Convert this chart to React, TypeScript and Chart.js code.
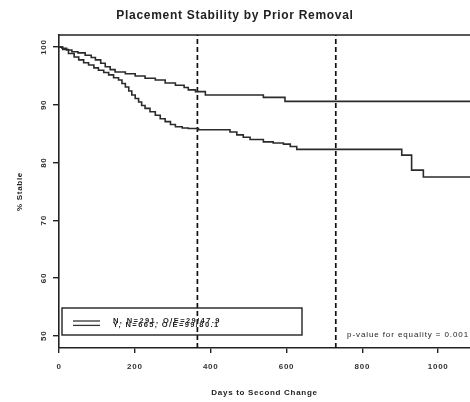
import { useEffect, useRef } from 'react'
import { Chart, registerables } from 'chart.js'

Chart.register(...registerables)

// Kaplan-Meier style curves
const groupLabels = ['N, N=291, O/E=29/47.9', 'Y, N=665, O/E=99/80.1']

const daysN = [0, 8, 20, 34, 50, 69, 85, 96, 110, 122, 135, 148, 175, 201, 227, 254, 280, 307, 330, 341, 360, 386, 539, 596, 1100]
const stableN = [100, 99.8, 99.5, 99.2, 99.0, 98.6, 98.2, 97.8, 97.2, 96.6, 96.1, 95.7, 95.4, 95.0, 94.6, 94.3, 93.8, 93.4, 93.0, 92.6, 92.3, 91.7, 91.3, 90.6, 90.6]

const daysY = [0, 10, 25, 40, 52, 65, 78, 92, 104, 118, 131, 144, 157, 166, 175, 184, 192, 201, 210, 218, 227, 240, 254, 267, 280, 294, 307, 325, 341, 368, 451, 469, 486, 504, 539, 565, 592, 610, 627, 904, 930, 961, 1100]
const stableY = [100, 99.6, 98.9, 98.3, 97.8, 97.3, 96.9, 96.4, 96.0, 95.6, 95.2, 94.7, 94.3, 93.7, 93.1, 92.4, 91.7, 91.1, 90.5, 89.9, 89.4, 88.8, 88.2, 87.6, 87.1, 86.6, 86.2, 86.0, 85.9, 85.7, 85.3, 84.8, 84.4, 84.0, 83.6, 83.4, 83.2, 82.8, 82.3, 81.3, 78.7, 77.5, 77.5]

const cutoffDays = [365, 730]
const xTicks = [0, 200, 400, 600, 800, 1000]
const yTicks = [50, 60, 70, 80, 90, 100]
const xMin = 0
const xMax = 1084
const yMin = 47.9
const yMax = 102.1

const pValueText = 'p-value for equality = 0.001'

const INK = '#222'
const FONT = '"Liberation Sans", Arial, sans-serif'

const frameAndNotes = {
  id: 'frameAndNotes',
  beforeDraw(chart: any) {
    chart.ctx.letterSpacing = '0.7px'
  },
  afterDraw(chart: any) {
    const { ctx, chartArea } = chart
    ctx.save()
    // top edge of the box
    ctx.strokeStyle = INK
    ctx.lineWidth = 1.5
    ctx.beginPath()
    ctx.moveTo(chartArea.left, chartArea.top)
    ctx.lineTo(chartArea.right, chartArea.top)
    ctx.stroke()

    // legend box, bottom left
    const boxLeft = chartArea.left + 3
    const boxRight = boxLeft + 240
    const boxBottom = chartArea.bottom - 13
    const boxTop = boxBottom - 27
    ctx.lineWidth = 1.4
    ctx.strokeRect(boxLeft, boxTop, boxRight - boxLeft, boxBottom - boxTop)
    ctx.font = `bold 7.5px ${FONT}`
    ctx.letterSpacing = '1.4px'
    ctx.fillStyle = INK
    ctx.textBaseline = 'middle'
    ctx.textAlign = 'left'
    groupLabels.forEach((label, i) => {
      const rowY = boxTop + 13 + i * 4.4
      ctx.strokeStyle = '#333'
      ctx.lineWidth = 1.3
      ctx.beginPath()
      ctx.moveTo(boxLeft + 11, rowY)
      ctx.lineTo(boxLeft + 38, rowY)
      ctx.stroke()
      ctx.fillText(label, boxLeft + 51, rowY)
    })

    // p-value note, bottom right
    ctx.font = `8px ${FONT}`
    ctx.letterSpacing = '0.9px'
    ctx.textAlign = 'right'
    ctx.fillText(pValueText, chartArea.right - 1, chartArea.bottom - 13)
    ctx.restore()
  },
}

export default function App() {
  const chartRef = useRef<HTMLCanvasElement | null>(null)

  useEffect(() => {
    document.body.style.margin = '0'
    if (!chartRef.current) return
    const ctx = chartRef.current.getContext('2d')
    if (!ctx) return

    const curve = (days: number[], pct: number[]) => days.map((d, i) => ({ x: d, y: pct[i] }))

    const chart = new Chart(ctx, {
      type: 'line',
      data: {
        datasets: [
          {
            label: groupLabels[0],
            data: curve(daysN, stableN),
            stepped: true,
            borderColor: '#2b2b2b',
            borderWidth: 1.6,
            pointRadius: 0,
            fill: false,
          },
          {
            label: groupLabels[1],
            data: curve(daysY, stableY),
            stepped: true,
            borderColor: '#2b2b2b',
            borderWidth: 1.6,
            pointRadius: 0,
            fill: false,
          },
          ...cutoffDays.map(d => ({
            label: `day ${d}`,
            data: [{ x: d, y: yMin }, { x: d, y: yMax }],
            borderColor: '#111',
            borderWidth: 1.7,
            borderDash: [5, 3],
            pointRadius: 0,
            fill: false,
          })),
        ],
      },
      options: {
        animation: false,
        responsive: true,
        maintainAspectRatio: false,
        layout: { padding: 0 },
        plugins: {
          legend: { display: false },
          tooltip: { enabled: false },
          title: {
            display: true,
            text: 'Placement Stability by Prior Removal',
            color: INK,
            font: { family: FONT, size: 12, weight: 'bold' },
            padding: { top: 8, bottom: 12.6 },
          },
        },
        scales: {
          x: {
            type: 'linear',
            min: xMin,
            max: xMax,
            afterBuildTicks: (scale: any) => {
              scale.ticks = xTicks.map(v => ({ value: v }))
            },
            afterFit: (scale: any) => {
              scale.height = 54
            },
            grid: { display: true, drawOnChartArea: false, drawTicks: true, tickLength: 5, color: INK, lineWidth: 1.4 },
            border: { display: true, color: INK, width: 1.6 },
            ticks: {
              color: '#333',
              padding: 9,
              font: { family: FONT, size: 8, weight: 'bold' },
              maxRotation: 0,
              callback: (v: any) => String(v),
            },
            title: {
              display: true,
              text: 'Days to Second Change',
              color: INK,
              font: { family: FONT, size: 8, weight: 'bold' },
              padding: { top: 0, bottom: 4 },
            },
          },
          y: {
            type: 'linear',
            min: yMin,
            max: yMax,
            afterBuildTicks: (scale: any) => {
              scale.ticks = yTicks.map(v => ({ value: v }))
            },
            afterFit: (scale: any) => {
              scale.width = 59
            },
            grid: { display: true, drawOnChartArea: false, drawTicks: true, tickLength: 6, color: INK, lineWidth: 1.4 },
            border: { display: true, color: INK, width: 1.6 },
            ticks: {
              color: '#333',
              padding: 3,
              minRotation: 90,
              maxRotation: 90,
              crossAlign: 'center',
              font: { family: FONT, size: 8, weight: 'bold' },
              callback: (v: any) => String(v),
            },
            title: {
              display: true,
              text: '% Stable',
              color: INK,
              font: { family: FONT, size: 8, weight: 'bold' },
              padding: { top: 15, bottom: 0 },
            },
          },
        },
      },
      plugins: [frameAndNotes],
    } as any)

    return () => {
      chart.destroy()
    }
  }, [])

  return (
    <div style={{ width: 470, height: 402, position: 'relative' }}>
      <canvas ref={chartRef} />
    </div>
  )
}
